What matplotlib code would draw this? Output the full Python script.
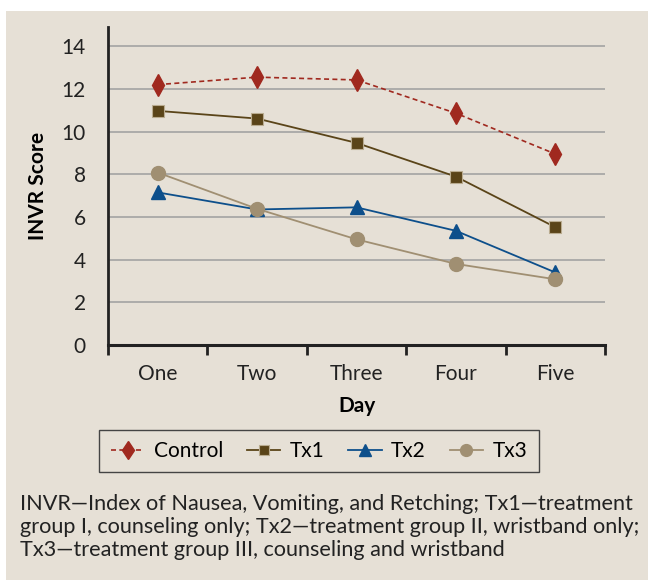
import numpy as np
import matplotlib
matplotlib.use('Agg')
import matplotlib.pyplot as plt
from matplotlib.patches import Rectangle

plt.rcParams['font.family'] = ['Lato', 'DejaVu Sans']

days = ['One', 'Two', 'Three', 'Four', 'Five']
control = [12.2, 12.55, 12.42, 10.86, 8.95]
tx1 = [10.97, 10.61, 9.47, 7.89, 5.52]
tx2 = [7.15, 6.35, 6.45, 5.35, 3.4]
tx3 = [8.08, 6.38, 4.95, 3.8, 3.08]
yticks = [0, 2, 4, 6, 8, 10, 12, 14]
note = ("INVR\u2014Index of Nausea, Vomiting, and Retching; Tx1\u2014treatment\n"
        "group I, counseling only; Tx2\u2014treatment group II, wristband only;\n"
        "Tx3\u2014treatment group III, counseling and wristband")

bg = '#e6e0d6'
c_ctrl = '#a0291f'
c_tx1 = '#5a4418'
c_tx2 = '#0d4f8b'
c_tx3 = '#a08f72'
fs = 15

fig = plt.figure(figsize=(6.48, 5.8), dpi=100)
fig.patch.set_facecolor('white')
fig.patches.append(Rectangle((6/648, 0), 1, 1 - 11/580, transform=fig.transFigure,
                             facecolor=bg, edgecolor='none', zorder=-10))

ax = fig.add_axes([108/648, 1 - 345/580, (605 - 108)/648, (345 - 27)/580])
ax.set_facecolor(bg)
x = np.arange(len(days))

ax.plot(x, control, color=c_ctrl, ls=(0, (3, 2)), lw=1.2, marker='d', ms=11, label='Control', zorder=5)
ax.plot(x, tx1, color=c_tx1, lw=1.3, marker='s', ms=9, mec='#b9ab8f', mew=0.8, label='Tx1', zorder=5)
ax.plot(x, tx2, color=c_tx2, lw=1.3, marker='^', ms=10, label='Tx2', zorder=5)
ax.plot(x, tx3, color=c_tx3, lw=1.3, marker='o', ms=10, label='Tx3', zorder=5)

ax.set_xlim(-0.5, 4.5)
ax.set_ylim(0, 14.9)
ax.set_yticks(yticks)
ax.yaxis.grid(True, color='#a3a3a3', lw=1.2)
ax.set_axisbelow(True)
ax.tick_params(axis='y', length=0, labelsize=fs, pad=16, labelcolor='#222222')
ax.set_xticks(x)
ax.set_xticklabels(days)
ax.set_xticks(np.arange(-0.5, 5, 1), minor=True)
ax.tick_params(axis='x', which='major', length=0, labelsize=fs, pad=14, labelcolor='#222222')
ax.tick_params(axis='x', which='minor', length=7, width=2, direction='out', color='#222222')
for s in ['top', 'right']:
    ax.spines[s].set_visible(False)
ax.spines['left'].set_linewidth(2)
ax.spines['bottom'].set_linewidth(2.2)
ax.spines['left'].set_color('#222222')
ax.spines['bottom'].set_color('#222222')
ax.set_xlabel('Day', fontsize=fs, fontweight='bold', labelpad=8)
ax.set_ylabel('INVR Score', fontsize=fs, fontweight='bold', labelpad=10)

leg = fig.legend(loc='center', bbox_to_anchor=(319/648, 1 - 451/580), ncol=4,
                 fontsize=fs, frameon=True, fancybox=False, edgecolor='#444444',
                 facecolor=bg, handlelength=1.6, handletextpad=0.45, columnspacing=1.15,
                 borderpad=0.55, borderaxespad=0, markerscale=0.85)
leg.get_frame().set_linewidth(1.0)
leg.get_frame().set_alpha(1)

fig.text(20/648, 1 - 494/580, note, fontsize=15.6, va='top', ha='left',
         color='#222222', linespacing=1.2)

fig.savefig('out.png', dpi=100, facecolor='white')
